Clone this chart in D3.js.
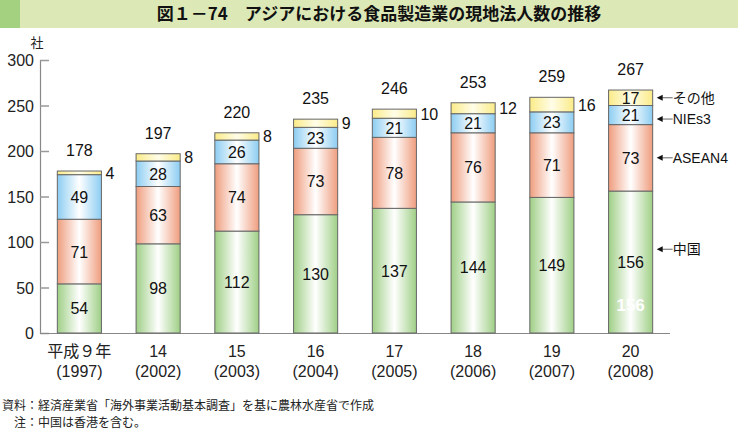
<!DOCTYPE html>
<html><head><meta charset="utf-8">
<script src="https://cdn.jsdelivr.net/npm/d3@7"></script>
<style>body{margin:0;background:#fff}svg{display:block}text{font-family:"Liberation Sans",Arial,sans-serif}</style>
</head><body><svg id="c" width="738" height="438"></svg>
<script>
const categories = ["平成９年|(1997)","14|(2002)","15|(2003)","16|(2004)","17|(2005)","18|(2006)","19|(2007)","20|(2008)"];
const china = [54,98,112,130,137,144,149,156];
const asean4 = [71,63,74,73,78,76,71,73];
const nies3 = [49,28,26,23,21,21,23,21];
const others = [4,8,8,9,10,12,16,17];
const totals = [178,197,220,235,246,253,259,267];
const seriesNames = ["中国","ASEAN4","NIEs3","その他"];
const yTicks = [0,50,100,150,200,250,300];

const svg = d3.select("#c");
const defs = svg.append("defs");
const cols = [["#9fcf86","#ffffff"],["#ef9d7e","#ffffff"],["#8ccdf2","#ffffff"],["#fbeb88","#fffde8"]];
cols.forEach((c,i)=>{
  const g = defs.append("linearGradient").attr("id","g"+i).attr("x1","0").attr("x2","1").attr("y1","0").attr("y2","0");
  g.append("stop").attr("offset","0%").attr("stop-color",c[0]);
  g.append("stop").attr("offset","50%").attr("stop-color",c[1]);
  g.append("stop").attr("offset","100%").attr("stop-color",c[0]);
});
const mixFont = "'Liberation Sans','Noto Sans CJK JP',sans-serif";

// title
svg.append("rect").attr("x",0).attr("y",0).attr("width",738).attr("height",28).attr("fill","#dce8b6");
svg.append("rect").attr("x",0).attr("y",0).attr("width",20).attr("height",28).attr("fill","#a3d17f");
svg.append("text").attr("x",379).attr("y",20).attr("text-anchor","middle")
  .style("font-family","'Noto Sans CJK JP'").style("font-size","17px").style("font-weight","bold").attr("fill","#111")
  .text("図１－74　アジアにおける食品製造業の現地法人数の推移");

const x = d3.scaleBand().domain(categories).range([40,670]).paddingInner(0.44).paddingOuter(0.22);
const y = d3.scaleLinear().domain([0,300]).range([333,60]);

// y axis
const ya = svg.append("g").attr("transform","translate(40,0)")
  .call(d3.axisRight(y).tickValues(yTicks).tickSize(9).tickFormat(""));
ya.select(".domain").attr("stroke","#888").attr("stroke-width",1.2);
ya.selectAll(".tick line").attr("stroke","#999").attr("stroke-width",1.5);
svg.append("g").selectAll("text").data(yTicks).join("text")
  .attr("x",34).attr("y",d=>y(d)+6).attr("text-anchor","end")
  .style("font-size","16px").attr("fill","#222").text(d=>d);
svg.append("text").attr("x",37).attr("y",47).attr("text-anchor","middle")
  .style("font-family","'Noto Sans CJK JP'").style("font-size","13px").attr("fill","#222").text("社");

// x axis
svg.append("line").attr("x1",40).attr("x2",670).attr("y1",333.5).attr("y2",333.5).attr("stroke","#888").attr("stroke-width",1.2);
const xl = svg.append("g").selectAll("text").data(categories).join("text")
  .attr("text-anchor","middle").style("font-size","16px").attr("fill","#222")
  .style("font-family",mixFont);
xl.each(function(d){
  const p = d.split("|"); const cx = x(d)+x.bandwidth()/2;
  const t = d3.select(this);
  t.append("tspan").attr("x",cx).attr("y",357).text(p[0]);
  t.append("tspan").attr("x",cx).attr("y",377).text(p[1]);
});

// bars
const series = [china,asean4,nies3,others];
const rows = categories.map((c,i)=>({cat:c,v:series.map(s=>s[i]),total:totals[i]}));
const stack = d3.stack().keys([0,1,2,3]).value((d,k)=>d.v[k])(rows);
stack.forEach((layer,k)=>{
  svg.append("g").selectAll("rect").data(layer).join("rect")
    .attr("x",d=>x(d.data.cat)).attr("width",x.bandwidth())
    .attr("y",d=>y(d[1])).attr("height",d=>y(d[0])-y(d[1]))
    .attr("fill","url(#g"+k+")").attr("stroke","#666").attr("stroke-width",1);
});
// inside labels
stack.forEach((layer,k)=>{
  const data = layer.filter((d,i)=>k<3 || i===categories.length-1);
  svg.append("g").selectAll("text").data(data).join("text")
    .attr("x",d=>x(d.data.cat)+x.bandwidth()/2).attr("y",d=>(y(d[0])+y(d[1]))/2+6)
    .attr("text-anchor","middle").style("font-size","16px").attr("fill","#111")
    .text(d=>d.data.v[k]);
});
// outside "others" labels
svg.append("g").selectAll("text").data(stack[3].filter((d,i)=>i<categories.length-1)).join("text")
  .attr("x",d=>x(d.data.cat)+x.bandwidth()+4).attr("y",d=>(y(d[0])+y(d[1]))/2+6)
  .style("font-size","16px").attr("fill","#111").text(d=>d.data.v[3]);
// totals
svg.append("g").selectAll("text").data(rows).join("text")
  .attr("x",d=>x(d.cat)+x.bandwidth()/2).attr("y",d=>y(d.total)-15)
  .attr("text-anchor","middle").style("font-size","16px").attr("fill","#111").text(d=>d.total);
// stray white label in last bar
const last = rows[rows.length-1];
svg.append("text").attr("x",x(last.cat)+x.bandwidth()/2).attr("y",y(china[china.length-1]*0.2)+6)
  .attr("text-anchor","middle").style("font-size","17px").style("font-weight","bold").attr("fill","#fff").text(china[china.length-1]);

// legend arrows
const lastStack = stack.map(l=>l[l.length-1]);
const lx = x(last.cat)+x.bandwidth()+4;
lastStack.forEach((d,k)=>{
  let yy = (y(d[0])+y(d[1]))/2;
  if(k===0) yy = y(d[0]+ (d[1]-d[0])*0.59);
  if(k===2) yy += 4;
  const g = svg.append("g");
  g.append("line").attr("x1",lx+5).attr("x2",lx+16).attr("y1",yy).attr("y2",yy).attr("stroke","#666").attr("stroke-width",1);
  g.append("path").attr("d",`M${lx},${yy} L${lx+6},${yy-3} L${lx+6},${yy+3} Z`).attr("fill","#111");
  g.append("text").attr("x",lx+16).attr("y",yy+5).style("font-size","14px").attr("fill","#111")
    .style("font-family",mixFont).text(seriesNames[k]);
});

// footnotes
svg.append("text").attr("x",2).attr("y",410).style("font-family","'Noto Sans CJK JP'").style("font-size","12px").attr("fill","#222")
  .text("資料：経済産業省「海外事業活動基本調査」を基に農林水産省で作成");
svg.append("text").attr("x",14).attr("y",427).style("font-family","'Noto Sans CJK JP'").style("font-size","12px").attr("fill","#222")
  .text("注：中国は香港を含む。");
</script></body></html>
